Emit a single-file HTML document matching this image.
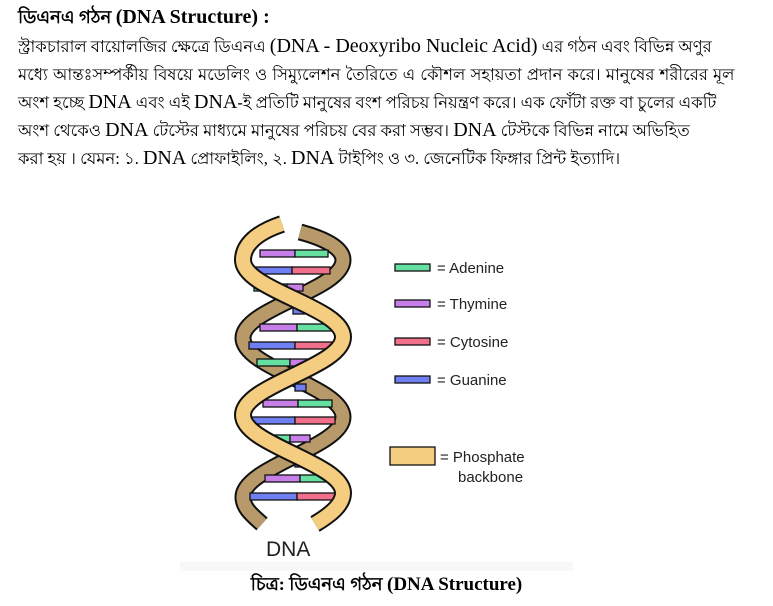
<!DOCTYPE html>
<html><head><meta charset="utf-8"><style>
body{margin:0;width:773px;height:606px;background:#fff;overflow:hidden;font-family:"Liberation Serif","Noto Serif CJK SC",serif;color:#000;position:relative}
.t{position:absolute;left:18px;top:3px;font-weight:bold;font-size:18px}
.l{position:absolute;left:18px;font-size:16.5px;white-space:nowrap}
.e{font-size:20px}
.t .e{font-size:20px}
.cap{position:absolute;left:0;width:773px;top:570px;text-align:center;font-weight:bold;font-size:18px}
.cap .e{font-size:19px}
svg{position:absolute;left:0;top:0}
</style></head><body>
<div class="t">ডিএনএ গঠন <span class="e">(DNA Structure) :</span></div>
<div class="l" style="top:34px">স্ট্রাকচারাল বায়োলজির ক্ষেত্রে ডিএনএ <span class="e">(DNA - Deoxyribo Nucleic Acid)</span> এর গঠন এবং বিভিন্ন অণুর</div>
<div class="l" style="top:62px;word-spacing:1px">মধ্যে আন্তঃসম্পর্কীয় বিষয়ে মডেলিং ও সিম্যুলেশন তৈরিতে এ কৌশল সহায়তা প্রদান করে। মানুষের শরীরের মূল</div>
<div class="l" style="top:90px">অংশ হচ্ছে <span class="e">DNA</span> এবং এই <span class="e">DNA</span>-ই প্রতিটি মানুষের বংশ পরিচয় নিয়ন্ত্রণ করে। এক ফোঁটা রক্ত বা চুলের একটি</div>
<div class="l" style="top:118px">অংশ থেকেও <span class="e">DNA</span> টেস্টের মাধ্যমে মানুষের পরিচয় বের করা সম্ভব। <span class="e">DNA</span> টেস্টকে বিভিন্ন নামে অভিহিত</div>
<div class="l" style="top:146px">করা হয় । যেমন: ১. <span class="e">DNA</span> প্রোফাইলিং, ২. <span class="e">DNA</span> টাইপিং ও ৩. জেনেটিক ফিঙ্গার প্রিন্ট ইত্যাদি।</div>
<svg width="773" height="606" viewBox="0 0 773 606">
<rect x="180" y="562" width="393" height="9" fill="#f8f8f8"/>
<g fill="none" stroke-linecap="butt">
<path d="M300,232 C330,240 343,250 343,260 C343,290 243,308 243,338 C243,368 343,387 343,417 C343,447 243,467 243,497 C243,508 252,515 262,524" stroke="#111" stroke-width="17"/>
<path d="M300,232 C330,240 343,250 343,260 C343,290 243,308 243,338 C243,368 343,387 343,417 C343,447 243,467 243,497 C243,508 252,515 262,524" stroke="#b8996a" stroke-width="13"/>
</g>
<g stroke="#111" stroke-width="1.3">
<rect x="260" y="250" width="35" height="7" fill="#c77ee8"/><rect x="295" y="250" width="33" height="7" fill="#66e0a0"/>
<rect x="246" y="267" width="46" height="7" fill="#6f7ef0"/><rect x="292" y="267" width="38" height="7" fill="#f0708c"/>
<rect x="254" y="284" width="33" height="7" fill="#66e0a0"/><rect x="287" y="284" width="16" height="7" fill="#c77ee8"/>
<rect x="293" y="307" width="13" height="7" fill="#6f7ef0"/>
<rect x="260" y="324" width="37" height="7" fill="#c77ee8"/><rect x="297" y="324" width="35" height="7" fill="#66e0a0"/>
<rect x="249" y="342" width="46" height="7" fill="#6f7ef0"/><rect x="295" y="342" width="38" height="7" fill="#f0708c"/>
<rect x="257" y="359" width="33" height="7" fill="#66e0a0"/><rect x="290" y="359" width="18" height="7" fill="#c77ee8"/>
<rect x="295" y="384" width="11" height="7" fill="#6f7ef0"/>
<rect x="263" y="400" width="35" height="7" fill="#c77ee8"/><rect x="298" y="400" width="34" height="7" fill="#66e0a0"/>
<rect x="250" y="417" width="45" height="7" fill="#6f7ef0"/><rect x="295" y="417" width="40" height="7" fill="#f0708c"/>
<rect x="257" y="435" width="33" height="7" fill="#66e0a0"/><rect x="290" y="435" width="20" height="7" fill="#c77ee8"/>
<rect x="295" y="460" width="12" height="7" fill="#6f7ef0"/>
<rect x="265" y="475" width="35" height="7" fill="#c77ee8"/><rect x="300" y="475" width="33" height="7" fill="#66e0a0"/>
<rect x="250" y="493" width="47" height="7" fill="#6f7ef0"/><rect x="297" y="493" width="38" height="7" fill="#f0708c"/>
</g>
<g fill="none">
<path d="M282,224 C252,234 243,248 243,260 C243,290 343,307 343,337 C343,367 243,385 243,415 C243,445 343,463 343,493 C343,505 330,515 315,524" stroke="#111" stroke-width="18"/>
<path d="M282,224 C252,234 243,248 243,260 C243,290 343,307 343,337 C343,367 243,385 243,415 C243,445 343,463 343,493 C343,505 330,515 315,524" stroke="#f5cd80" stroke-width="14"/>
</g>
<g stroke="#111" stroke-width="1.3">
<rect x="395" y="264" width="35" height="7" fill="#66e0a0"/>
<rect x="395" y="300" width="35" height="7" fill="#c77ee8"/>
<rect x="395" y="338" width="35" height="7" fill="#f0708c"/>
<rect x="395" y="376" width="35" height="7" fill="#6f7ef0"/>
<rect x="390" y="447" width="45" height="18" fill="#f5cd80"/>
</g>
<g font-family="Liberation Sans, sans-serif" font-size="15" fill="#222">
<text x="437" y="273">= Adenine</text>
<text x="437" y="309">= Thymine</text>
<text x="437" y="347">= Cytosine</text>
<text x="437" y="385">= Guanine</text>
<text x="440" y="462">= Phosphate</text>
<text x="458" y="482">backbone</text>
<text x="266" y="556" font-size="21">DNA</text>
</g>
</svg>
<div class="cap">চিত্র: ডিএনএ গঠন <span class="e">(DNA Structure)</span></div>
</body></html>
